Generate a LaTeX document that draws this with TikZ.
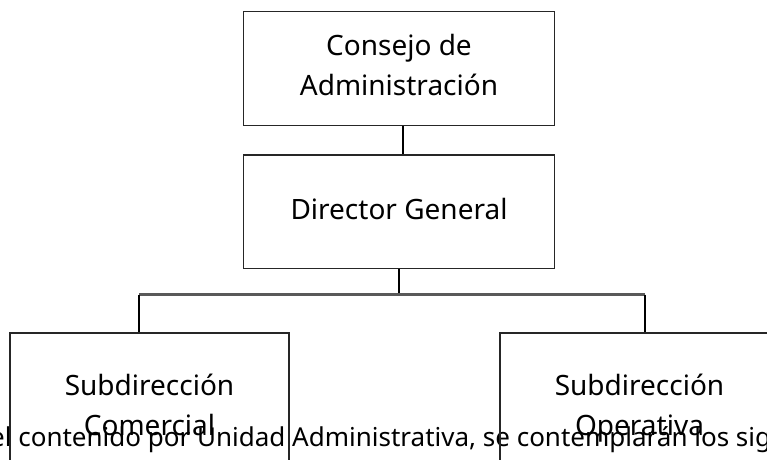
\documentclass[tikz,border=0pt]{standalone}
\usepackage{fontspec}
\setmainfont{Noto Sans}
\usetikzlibrary{positioning}

\begin{document}
\begin{tikzpicture}[x=1pt, y=-1pt,
                        caja/.style={draw=black!85, line width=1.3pt, minimum width=311pt, minimum height=113.5pt, inner sep=0pt, align=center, font=\fontsize{28}{40}\selectfont, execute at end node=\vphantom{p}},
                        subcaja/.style={caja, minimum width=279pt, minimum height=151pt},
                        enlace/.style={draw=black, line width=1.3pt},
                        barra/.style={draw=black!65, line width=2.5pt}]
                        \useasboundingbox (0,0) rectangle (767,459);
                        \clip (0,0) rectangle (767,459);
                        %\draw[style=help lines] (0,0) grid[step=50] (767,459);
                        \node[anchor=base west, inner sep=0pt, font=\fontsize{26}{36}\selectfont] (parrafo) at (-10,446.7) {el contenido por Unidad Administrativa, se contemplarán los siguientes};
                        \node[caja] (consejo) at (399,68.5) {Consejo de\\Administración};
                        \node[caja, below=28.5pt of consejo] (director) {Director General};
                        \node[subcaja] (comercial) at (149.5,408.5) {Subdirección\\Comercial};
                        \node[subcaja] (operativa) at (639.5,408.5) {Subdirección\\Operativa};
                        \coordinate (busizq) at (139,294.7);
                        \coordinate (busder) at (645,294.7);
                        \draw[enlace] ([xshift=4pt]consejo.south) -- ([xshift=4pt]director.north);
                        \draw[enlace] (director.south) -- (director.south |- busizq);
                        \draw[barra] (busizq) -- (busder);
                        \draw[enlace] (busizq) -- (busizq |- comercial.north) (busder) -- (busder |- operativa.north);
                    \end{tikzpicture}
\end{document}
